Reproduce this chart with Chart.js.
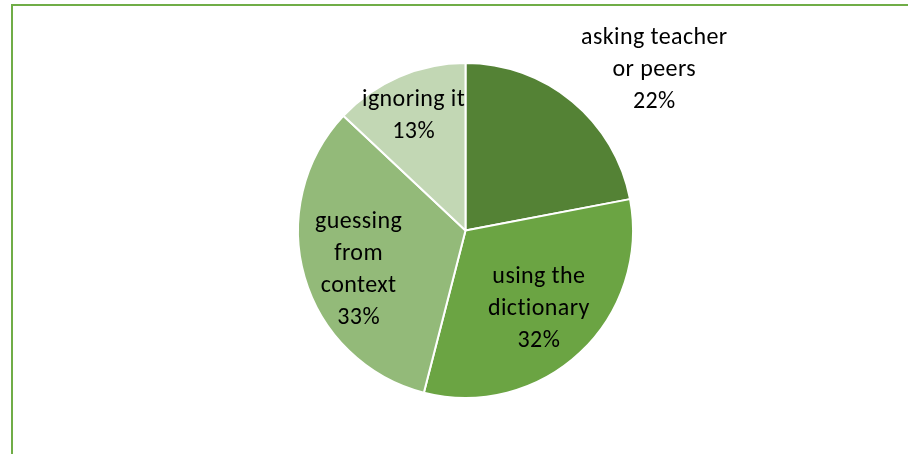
<!DOCTYPE html>
<html>
<head>
<meta charset="utf-8">
<script src="https://cdn.jsdelivr.net/npm/chart.js@4.4.0/dist/chart.umd.min.js"></script>
<style>
  html, body { margin: 0; padding: 0; background: #fff; overflow: hidden; }
  .frame {
    position: absolute; left: 11px; top: 4px;
    width: 1000px; height: 600px;
    border-left: 2px solid #70AD47; border-top: 2px solid #70AD47;
    box-sizing: border-box;
  }
  .wrap { position: absolute; left: 0; top: 0; width: 908px; height: 454px; }
</style>
</head>
<body>
<div class="frame"></div>
<div class="wrap"><canvas id="pie" width="908" height="454"></canvas></div>
<script>
const categories = ["asking teacher or peers", "using the dictionary", "guessing from context", "ignoring it"];
const shares = [22, 32, 33, 13];
const labelLines = [
  ["asking teacher", "or peers"],
  ["using the", "dictionary"],
  ["guessing", "from", "context"],
  ["ignoring it"]
];
const sliceColors = ["#548235", "#6BA443", "#93BA79", "#C2D7B4"];

(function(){
  const canvas = document.getElementById("pie");

  // where each label sits: fraction of the radius and a small angular nudge (degrees)
  const spots = [
    { r: 1.48, nudge: 10 },
    { r: 0.64, nudge: 0 },
    { r: 0.68, nudge: -4 },
    { r: 0.75, nudge: -1 }
  ];

  const sliceLabels = {
    id: "sliceLabels",
    afterDatasetsDraw(chart) {
      const ctx = chart.ctx;
      const meta = chart.getDatasetMeta(0);
      ctx.save();
      ctx.font = "24px Carlito, Lato, sans-serif";
      ctx.letterSpacing = "0.4px";
      ctx.fillStyle = "#000";
      ctx.textAlign = "center";
      ctx.textBaseline = "middle";
      meta.data.forEach((arc, i) => {
        const p = arc.getProps(["x", "y", "startAngle", "endAngle", "outerRadius"], true);
        const mid = (p.startAngle + p.endAngle) / 2 + spots[i].nudge * Math.PI / 180;
        const dist = p.outerRadius * spots[i].r;
        const cx = p.x + Math.cos(mid) * dist;
        const cy = p.y + Math.sin(mid) * dist;
        const lines = labelLines[i].concat([shares[i] + "%"]);
        const lh = 32;
        const top = cy - (lines.length - 1) * lh / 2;
        lines.forEach((t, k) => ctx.fillText(t, cx, top + k * lh));
      });
      ctx.restore();
    }
  };

  new Chart(canvas, {
    type: "pie",
    data: {
      labels: categories,
      datasets: [{
        data: shares,
        backgroundColor: sliceColors,
        borderColor: "#ffffff",
        borderWidth: 2
      }]
    },
    options: {
      responsive: false,
      animation: false,
      layout: { padding: { left: 297, right: 274, top: 62, bottom: 55 } },
      plugins: {
        legend: { display: false },
        tooltip: { enabled: false }
      }
    },
    plugins: [sliceLabels]
  });
})();
</script>
</body>
</html>
